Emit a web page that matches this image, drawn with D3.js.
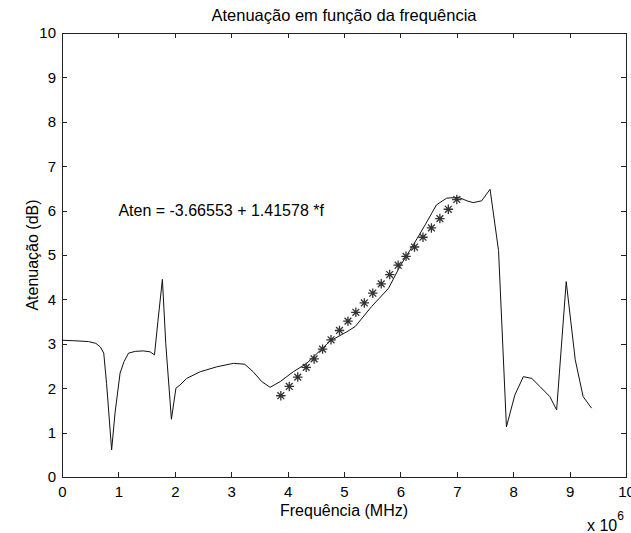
<!DOCTYPE html>
<html lang="pt">
<meta charset="utf-8">
<title>Atenuação em função da frequência</title>
<style>
  body { margin: 0; background: #fff; }
  svg { display: block; font-family: "Liberation Sans", Arial, sans-serif; }
  .axis text { font-size: 15px; fill: #000; }
  .axis path, .axis line { stroke: #222; stroke-width: 1; shape-rendering: crispEdges; }
</style>
<body>
<script src="https://d3js.org/d3.v7.min.js"></script>
<script>
  // measured attenuation curve (frequency in MHz, attenuation in dB)
  var freq = [0, 0.2, 0.47, 0.6, 0.68, 0.74, 0.79, 0.88, 0.94, 1.03, 1.1, 1.18, 1.3, 1.44, 1.56, 1.64,
    1.7, 1.78, 1.84, 1.94, 2.02, 2.09, 2.21, 2.45, 2.74, 3.04, 3.24, 3.39, 3.54, 3.69, 3.87, 4.1,
    4.34, 4.75, 5.05, 5.2, 5.49, 5.79, 5.99, 6.23, 6.44, 6.64, 6.82, 7.03, 7.18, 7.29, 7.44, 7.59,
    7.74, 7.88, 8.03, 8.18, 8.33, 8.48, 8.65, 8.77, 8.94, 9.1, 9.24, 9.39];
  var aten = [3.08, 3.07, 3.05, 3.01, 2.93, 2.79, 2.11, 0.61, 1.44, 2.34, 2.6, 2.79, 2.83, 2.84, 2.82, 2.75,
    3.5, 4.45, 3.0, 1.3, 2.0, 2.07, 2.22, 2.37, 2.48, 2.56, 2.54, 2.37, 2.15, 2.02, 2.15, 2.37,
    2.56, 3.06, 3.27, 3.39, 3.84, 4.25, 4.74, 5.23, 5.68, 6.13, 6.28, 6.3, 6.22, 6.18, 6.22, 6.48,
    5.1, 1.13, 1.85, 2.26, 2.22, 2.03, 1.81, 1.51, 4.4, 2.64, 1.81, 1.55];

  // linear fit points (asterisks)
  var fitFreq = [3.88, 4.03, 4.18, 4.33, 4.47, 4.62, 4.77, 4.92, 5.07, 5.21, 5.36,
    5.51, 5.66, 5.81, 5.96, 6.1, 6.25, 6.4, 6.55, 6.7, 6.85, 7.0];
  var fitAten = [1.83, 2.04, 2.25, 2.47, 2.66, 2.88, 3.09, 3.3, 3.51, 3.71, 3.92,
    4.14, 4.35, 4.56, 4.77, 4.97, 5.18, 5.4, 5.61, 5.82, 6.03, 6.25];

  var xTicks = [0, 1, 2, 3, 4, 5, 6, 7, 8, 9, 10];
  var yTicks = [0, 1, 2, 3, 4, 5, 6, 7, 8, 9, 10];

  var titleText = "Atenuação em função da frequência";
  var xLabel = "Frequência (MHz)";
  var yLabel = "Atenuação (dB)";
  var fitText = "Aten = -3.66553 + 1.41578 *f";

  // set the dimensions and margins of the graph
  var W = 631, H = 533;
  var margin = { top: 33, right: 5, bottom: 56, left: 62 },
    width = W - margin.left - margin.right,
    height = H - margin.top - margin.bottom;

  // set the ranges
  var x = d3.scaleLinear().domain([0, 10]).range([0, width]);
  var y = d3.scaleLinear().domain([0, 10]).range([height, 0]);

  var svg = d3.select("body").append("svg")
    .attr("width", W)
    .attr("height", H);

  var g = svg.append("g")
    .attr("transform", "translate(" + margin.left + "," + margin.top + ")");

  // axes with inward ticks on all four sides (box on)
  g.append("g")
    .attr("class", "axis")
    .attr("transform", "translate(0," + height + ")")
    .call(d3.axisBottom(x).tickValues(xTicks).tickSizeInner(-5).tickSizeOuter(0).tickPadding(9)
      .tickFormat(d3.format("d")));
  g.append("g")
    .attr("class", "axis")
    .call(d3.axisTop(x).tickValues(xTicks).tickSizeInner(-5).tickSizeOuter(0).tickFormat(""));
  g.append("g")
    .attr("class", "axis")
    .call(d3.axisLeft(y).tickValues(yTicks).tickSizeInner(-5).tickSizeOuter(0).tickPadding(6)
      .tickFormat(d3.format("d")));
  g.append("g")
    .attr("class", "axis")
    .attr("transform", "translate(" + width + ",0)")
    .call(d3.axisRight(y).tickValues(yTicks).tickSizeInner(-5).tickSizeOuter(0).tickFormat(""));

  // the measured curve
  var line = d3.line()
    .x(function(d, i) { return x(freq[i]); })
    .y(function(d) { return y(d); });

  g.append("path")
    .datum(aten)
    .attr("fill", "none")
    .attr("stroke", "#111")
    .attr("stroke-width", 1)
    .attr("d", line);

  // asterisk markers for the fit
  var star = d3.symbol().type({
    draw: function(ctx, size) {
      var r = Math.sqrt(size) / 2, d = r * 0.72;
      ctx.moveTo(-r, 0); ctx.lineTo(r, 0);
      ctx.moveTo(0, -r); ctx.lineTo(0, r);
      ctx.moveTo(-d, -d); ctx.lineTo(d, d);
      ctx.moveTo(-d, d); ctx.lineTo(d, -d);
    }
  }).size(90);

  g.selectAll(".star")
    .data(fitAten)
    .enter().append("path")
    .attr("class", "star")
    .attr("transform", function(d, i) { return "translate(" + x(fitFreq[i]) + "," + y(d) + ")"; })
    .attr("d", star)
    .attr("fill", "none")
    .attr("stroke", "#333")
    .attr("stroke-width", 1.3);

  // fit equation
  g.append("text")
    .attr("x", x(1))
    .attr("y", y(6))
    .attr("dy", "0.35em")
    .attr("font-size", 16)
    .text(fitText);

  // title and labels
  svg.append("text")
    .attr("x", margin.left + width / 2)
    .attr("y", 21)
    .attr("text-anchor", "middle")
    .attr("font-size", 16.5)
    .text(titleText);

  svg.append("text")
    .attr("x", margin.left + width / 2)
    .attr("y", 516)
    .attr("text-anchor", "middle")
    .attr("font-size", 16)
    .text(xLabel);

  svg.append("text")
    .attr("transform", "translate(38," + (margin.top + height / 2) + ") rotate(-90)")
    .attr("text-anchor", "middle")
    .attr("font-size", 16)
    .text(yLabel);

  // x 10^6 multiplier
  var mult = svg.append("text")
    .attr("x", 587)
    .attr("y", 531)
    .attr("font-size", 16);
  mult.append("tspan").text("x 10");
  mult.append("tspan").attr("dy", -11).attr("font-size", 12).text("6");
</script>
</body>
</html>
